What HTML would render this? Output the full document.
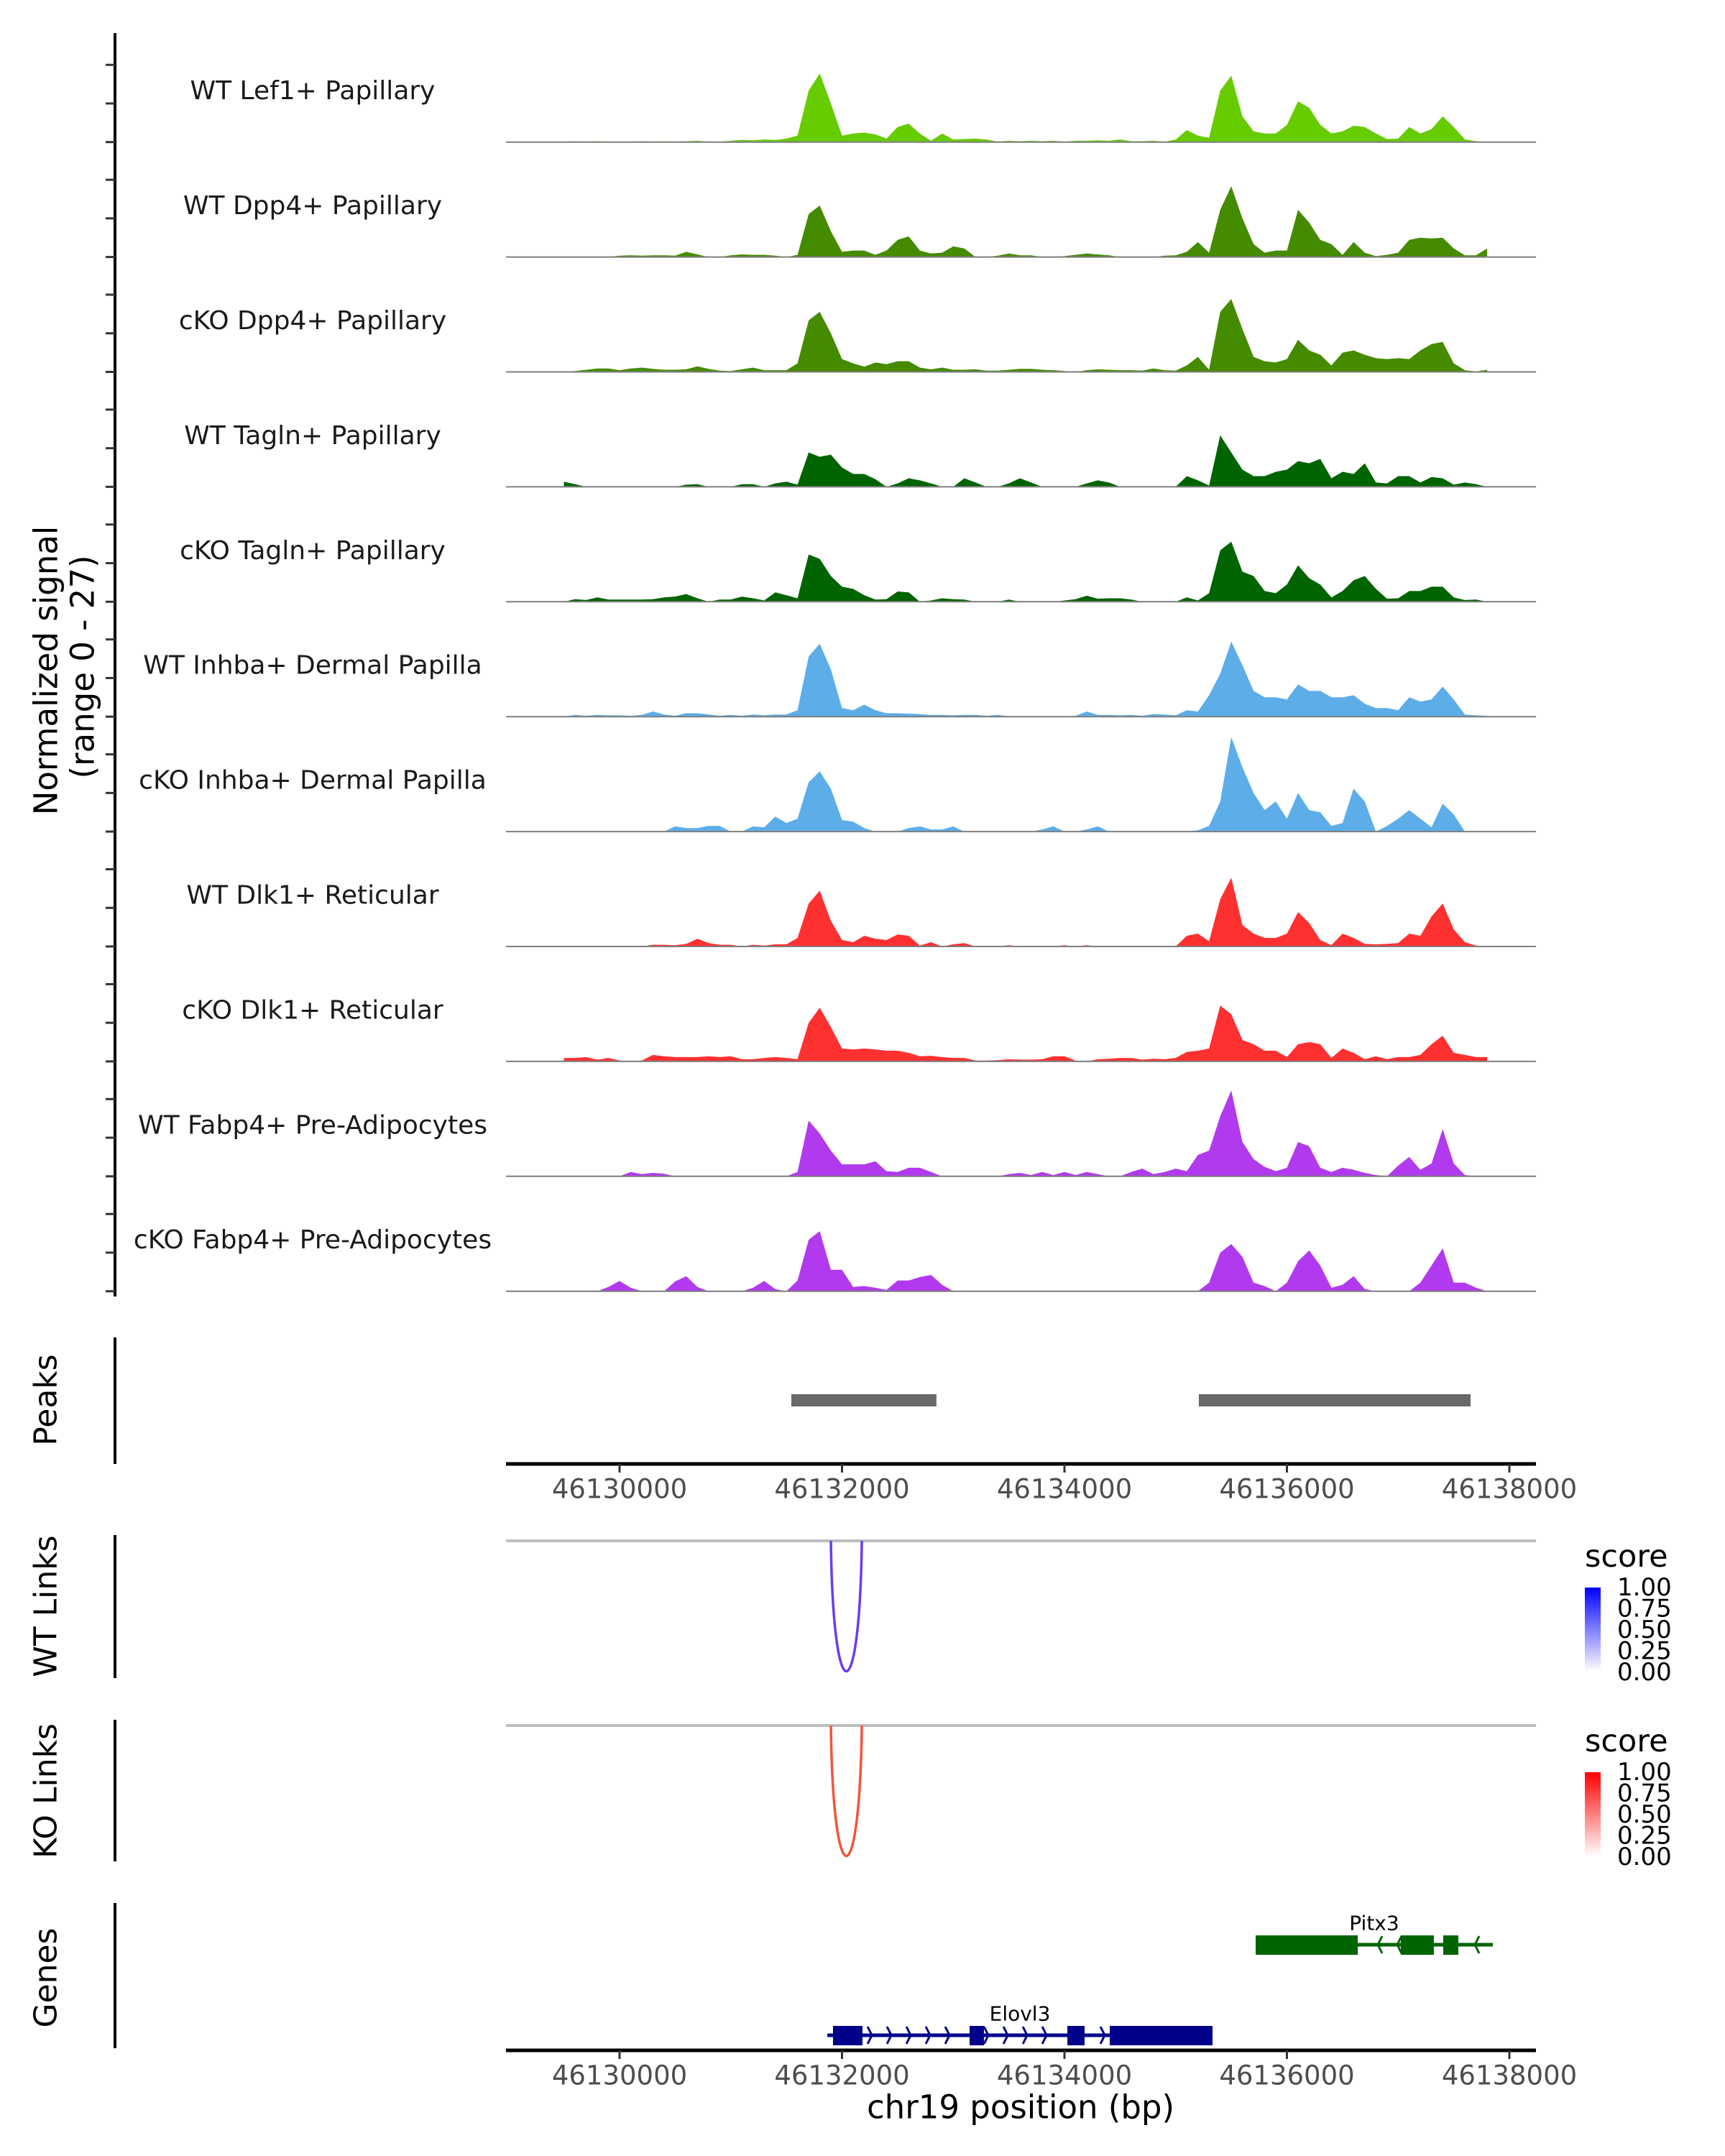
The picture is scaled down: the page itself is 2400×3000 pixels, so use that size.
<!DOCTYPE html>
<html><head><meta charset="utf-8"><style>
html,body{margin:0;padding:0;background:#fff;}
svg{display:block;}
text{font-family:"DejaVu Sans","Liberation Sans",sans-serif;}
</style></head>
<body>
<svg id="chart" width="2400" height="3000" viewBox="0 0 2400 3000" xmlns="http://www.w3.org/2000/svg">
<defs>
<linearGradient id="gBlue" x1="0" y1="1" x2="0" y2="0"><stop offset="0" stop-color="#ffffff"/><stop offset="1" stop-color="#0000ff"/></linearGradient>
<linearGradient id="gRed" x1="0" y1="1" x2="0" y2="0"><stop offset="0" stop-color="#ffffff"/><stop offset="1" stop-color="#ff0000"/></linearGradient>
</defs>
<g id="tracks"></g>
<text transform="translate(64,933) rotate(-90)" text-anchor="middle" dominant-baseline="central" font-size="45" fill="#000">Normalized signal</text>
<text transform="translate(115,928) rotate(-90)" text-anchor="middle" dominant-baseline="central" font-size="45" fill="#000">(range 0 - 27)</text>
<text transform="translate(64,1948) rotate(-90)" text-anchor="middle" dominant-baseline="central" font-size="44">Peaks</text>
<text transform="translate(64,2235) rotate(-90)" text-anchor="middle" dominant-baseline="central" font-size="44">WT Links</text>
<text transform="translate(64,2492) rotate(-90)" text-anchor="middle" dominant-baseline="central" font-size="44">KO Links</text>
<text transform="translate(64,2752) rotate(-90)" text-anchor="middle" dominant-baseline="central" font-size="44">Genes</text>
<g id="rest"></g>
</svg>
<script>
const startBp = 46129500, binBp = 100;
const trackNames = ["WT Lef1+ Papillary","WT Dpp4+ Papillary","cKO Dpp4+ Papillary","WT Tagln+ Papillary","cKO Tagln+ Papillary","WT Inhba+ Dermal Papilla","cKO Inhba+ Dermal Papilla","WT Dlk1+ Reticular","cKO Dlk1+ Reticular","WT Fabp4+ Pre-Adipocytes","cKO Fabp4+ Pre-Adipocytes"];
const trackColors = ["#66cc00","#458b00","#458b00","#006400","#006400","#5dade9","#5dade9","#ff3030","#ff3030","#b23aee","#b23aee"];
const sigLef1WT = [0.1,0.2,0.1,0.2,0.1,0.1,0.1,0.2,0.1,0.2, 0.1,0.2,0.3,0.1,0.1,0.3,0.5,0.4,0.6,0.5, 0.8,1.5,12,16,9,1.5,2,2.2,1.8,0.8, 3.5,4.3,2,0.3,2,0.6,0.7,0.8,0.6,0.1, 0.3,0.2,0.3,0.2,0.3,0.1,0.3,0.3,0.4,0.3, 0.6,0.2,0.2,0.3,0.1,0.6,2.8,1.5,1,12, 15.5,6,2.5,2,2,4,9.5,8,4,2, 2.5,3.8,3.5,2,0.7,0.8,3.5,2,3,6, 3.5,0.6,0.2,0];
const sigDpp4WT = [0,0,0,0,0,0.3,0.4,0.3,0.4,0.4, 0.3,1.2,0.6,0,0,0.4,0.6,0.5,0.5,0.3, 0,0.5,10,12,6,1.2,1.5,1.5,0.5,1.5, 4,4.8,1.5,0.8,1,2.5,2,0,0,0.3, 0.8,0.4,0.4,0,0,0.2,0.5,0.8,0.6,0.4, 0,0,0,0,0.3,0.4,1.2,3.5,1,11, 16.5,9,3,1,1.5,1.5,11,8,4,3, 0.5,3.5,1,0.2,0.5,1,4,4.5,4.3,4.5, 2,0.4,0.4,2];
const sigDpp4KO = [0,0.2,0.5,0.8,0.8,0.4,0.8,1,0.7,0.5, 0.5,0.6,1.3,0.7,0.3,0.2,0.6,1,0.4,0.4, 0.4,2,12,14,9,3,2,1.2,2.2,1.8, 2.5,2.5,1,0.6,1,0.5,0.5,0.6,0.3,0.3, 0.5,0.7,0.7,0.5,0.4,0.2,0,0.4,0.6,0.5, 0.4,0.4,0.3,0.8,0.4,0.3,1.5,3.5,0.5,14, 17,10,3.5,2.5,2.2,3,7.5,5,4,1.5, 4.5,5,4,3.2,3,3.2,3,5,6.5,7, 2,0.4,0.1,0.5];
const sigTaglnWT = [1.2,0.6,0,0,0,0,0,0,0,0, 0,0.5,0.6,0,0,0,0.6,0.6,0,0.8, 1.2,0.5,8,7,7.5,4.5,3,3,1.8,0, 0.8,2,1.5,0.8,0,0,2,1,0,0, 0.8,2,1,0,0,0,0,0.8,1.5,1, 0,0,0,0,0,0,2.5,1.5,0.3,12, 8,4,2.5,2.5,3.5,4,6,5.5,6.5,2, 3.5,3,5.5,1,0.8,2.5,2.5,1,2.3,2, 0.5,1,0.6,0];
const sigTaglnKO = [0,0.6,0.4,1,0.5,0.5,0.5,0.5,0.6,1, 1.2,1.8,0.8,0,0.5,0.5,1.2,0.8,0.3,2.2, 1.5,0.8,11,10,6,3.5,3,1.5,0.5,0.6, 2.4,2.2,0,0.3,0.8,0.6,0.5,0,0,0, 0.5,0,0,0,0,0.3,0.6,1.4,0.7,0.8, 0.8,0.5,0,0,0,0,1,0.3,2,12, 14,7,6,2.5,2,4,8.5,5.5,4,1, 2.5,5,6,3,0.7,0.8,2.5,2.5,3.5,3.5, 1,0.4,0.5,0];
const sigInhbaWT = [0,0.4,0.2,0.4,0.3,0.3,0.2,0.4,1.2,0.5, 0.2,0.8,0.8,0.5,0.2,0.4,0.2,0.5,0.3,0.5, 0.5,1.5,14,17,11,2,1.5,2.8,1.5,0.8, 0.8,0.7,0.6,0.4,0.4,0.3,0.4,0.4,0.2,0.4, 0.1,0,0,0,0,0,0.2,1.2,0.4,0.4, 0.3,0.4,0.2,0.6,0.5,0.3,1.5,1.2,5,10, 17.5,12,6,4.5,4.5,4,7.5,6,6,4.5, 4.5,5,3,2,2,1.5,4.5,3.5,4,7, 4,0.5,0.3,0.2];
const sigInhbaKO = [0,0,0,0,0,0,0,0,0,0, 1.2,0.8,0.8,1.3,1.3,0,0,1.2,1,3.5, 2,3,11.5,14,10,2.7,2.3,0.8,0,0, 0,0.8,1.2,0.5,0.5,1.2,0,0,0,0, 0,0,0,0.5,1.2,0,0,0.5,1.2,0, 0,0,0,0,0,0,0,0.3,1.3,7, 22,15,9,5,7,3,9,5,4.5,1.3, 2,10,7,0,1.3,3,5,3,1,6.5, 4,0,0,0];
const sigDlk1WT = [0,0,0,0,0,0,0,0,0.4,0.4, 0.3,0.6,1.8,0.8,0.4,0.4,0,0.4,0.2,0.5, 0.5,2,10,13,6,1.5,1,2.5,1.8,1.5, 2.8,2.5,0.2,1,0,0.5,0.8,0,0,0, 0.3,0,0,0,0,0.3,0,0.3,0,0, 0,0,0,0,0,0,2.5,3,1.2,11, 16,5,3,2,2,3,8,5.5,1.5,0.3, 3,2,0.6,0.5,0.6,0.8,3,2.5,7,10, 4,1,0.2,0];
const sigDlk1KO = [0.8,0.8,1,0.4,0.8,0.2,0,0.2,1.5,1.2, 1,1,1,1.2,1,1.2,0.5,0.5,0.8,1, 0.8,0.5,9,12.5,8,3,2.8,3,2.8,2.5, 2.5,2,1.2,1.3,1,0.8,0.8,0.2,0.2,0.3, 0.5,0.4,0.4,0.5,1.2,1.2,0.2,0,0.5,0.6, 0.8,0.8,0.4,0.6,0.5,0.8,2.2,2.5,3,13, 11,5,4,2.5,2.5,1,4,4.5,4,0.8, 3,2,0.5,1.2,0.5,1,1,1.5,4,6, 2,1.5,1,1];
const sigFabp4WT = [0,0,0,0,0,0,1,0.5,0.8,0.6, 0,0,0,0,0,0,0,0,0,0, 0,1,13,10,6,2.8,2.8,2.8,3.5,1.2, 1,2,2,1,0,0,0,0,0,0, 0.5,0.8,0.3,1,0.3,1,0.3,1,0.5,0, 0,1,1.8,0.5,1,1.8,1.2,5,6,14, 20,8,4,2.2,1.2,2,8,7,2,1, 2,1.5,0.8,0.3,0,2.5,4.5,1.5,3,11, 3,0.3,0,0];
const sigFabp4KO = [0,0,0,0,1,2.4,0.8,0,0,0, 2.3,3.5,1,0,0,0,0,0.8,2.4,0.5, 0,2.5,12,14,5,5,1,1.2,0.8,0.3, 2.5,2.5,3.3,3.8,1.5,0,0,0,0,0, 0,0,0,0,0,0,0,0,0,0, 0,0,0,0,0,0,0,0,2,9, 11,8,2,1.2,0,2,7,9.5,6,0.8, 1.5,3.5,0.5,0,0,0,0,2,6,10, 2,2,0.8,0];
const allSignals = [sigLef1WT,sigDpp4WT,sigDpp4KO,sigTaglnWT,sigTaglnKO,sigInhbaWT,sigInhbaKO,sigDlk1WT,sigDlk1KO,sigFabp4WT,sigFabp4KO];
const peakStarts = [46131544, 46135208];
const peakEnds = [46132849, 46137651];
const axisTicks = [46130000,46132000,46134000,46136000,46138000];
const wtLinkStart = [46131900], wtLinkEnd = [46132178], wtLinkScore = [0.8];
const koLinkStart = [46131900], koLinkEnd = [46132178], koLinkScore = [0.75];
const legendTicks = ["1.00","0.75","0.50","0.25","0.00"];
const elovl3Exons = [[46131919,46132184],[46133147,46133276],[46134026,46134181],[46134407,46135331]];
const elovl3Span = [46131868,46135331];
const pitx3Exons = [[46135719,46136637],[46137024,46137321],[46137405,46137541]];
const pitx3Span = [46135719,46137851];

const NS="http://www.w3.org/2000/svg";
function mk(tag, attrs, parent){const e=document.createElementNS(NS,tag);for(const k in attrs)e.setAttribute(k,attrs[k]);parent.appendChild(e);return e;}
const xS = bp => 862 + (bp-46130000)*(2100-862)/8000;
const unitPx = 5.97, base0 = 197.7, trackStep = 159.9;
const yS = (k,v) => base0 + trackStep*k - Math.min(v,27)*unitPx;
const tracks = document.getElementById('tracks');
const rest = document.getElementById('rest');

let ax = mk('line',{x1:160,y1:46,x2:160,y2:1804,stroke:'#000','stroke-width':4},tracks);


allSignals.forEach((sig,k)=>{
  const b = base0 + trackStep*k;
  [0,9,18].forEach(t=>{
    const tk = mk('line',{x1:147,x2:160,y1:b-t*unitPx,y2:b-t*unitPx,stroke:'#333','stroke-width':3},tracks);
    
    
  });
  let d = 'M'+xS(startBp).toFixed(1)+','+b.toFixed(1);
  for(let i=0;i<84;i++){const v=sig[i]||0;d+=' L'+xS(startBp+binBp*i).toFixed(1)+','+yS(k,v).toFixed(1);}
  d+=' L'+xS(startBp+binBp*83).toFixed(1)+','+b.toFixed(1)+' Z';
  const p = mk('path',{d:d,fill:trackColors[k],stroke:'none'},tracks);
  
  
  const bl = mk('line',{x1:704,x2:2137,y1:b,y2:b,stroke:'#7f7f7f','stroke-width':2},tracks);
  
  
  const lb = mk('text',{x:435,y:b-71,'text-anchor':'middle','dominant-baseline':'central','font-size':36,fill:'#1a1a1a'},tracks);
  lb.textContent = trackNames[k];
  
  
});

let pa = mk('line',{x1:160,y1:1861,x2:160,y2:2037,stroke:'#000','stroke-width':4},rest);


peakStarts.forEach((s,i)=>{
  const r = mk('rect',{x:xS(s),y:1940,width:xS(peakEnds[i])-xS(s),height:17,fill:'#696969'},rest);
  
  
});
function xAxis(y, nm){
  const l = mk('line',{x1:704,x2:2137,y1:y,y2:y,stroke:'#000','stroke-width':5},rest);
  
  
  axisTicks.forEach(t=>{
    const tk = mk('line',{x1:xS(t),x2:xS(t),y1:y,y2:y+12,stroke:'#333','stroke-width':3},rest);
    
    
    const tl = mk('text',{x:xS(t),y:y+35,'text-anchor':'middle','dominant-baseline':'central','font-size':37,fill:'#4d4d4d'},rest);
    tl.textContent = String(t);
    
    
  });
}
xAxis(2037,'peaks-x-axis');

function linksPanel(top, bottomAx, starts, ends, scores, color, grad, nm){
  const a = mk('line',{x1:160,y1:top-8,x2:160,y2:bottomAx,stroke:'#000','stroke-width':4},rest);
  
  
  const g = mk('line',{x1:704,x2:2137,y1:top,y2:top,stroke:'#bebebe','stroke-width':4},rest);
  
  
  starts.forEach((s,i)=>{
    const x1=xS(s), x2=xS(ends[i]), depth=182;
    const c = mk('path',{d:`M${x1},${top} C${x1+3},${top+depth*1.33} ${x2-3},${top+depth*1.33} ${x2},${top}`,fill:'none',stroke:color,'stroke-width':3.5},rest);
    
    
  });
  const st = mk('text',{x:2205,y:top+22,'dominant-baseline':'central','font-size':43},rest);
  st.textContent='score';
  
  
  const cb = mk('rect',{x:2205,y:top+65,width:22,height:117,fill:`url(#${grad})`},rest);
  
  
  legendTicks.forEach((t,i)=>{
    const yy = top+65+i*29.5;
    const tl = mk('text',{x:2250,y:yy,'dominant-baseline':'central','font-size':34},rest);
    tl.textContent=t;
    
    
  });
}
linksPanel(2144,2335,wtLinkStart,wtLinkEnd,wtLinkScore,'#6a3df2','gBlue','wt-links');
linksPanel(2401,2590,koLinkStart,koLinkEnd,koLinkScore,'#f4553a','gRed','ko-links');

let ga = mk('line',{x1:160,y1:2648,x2:160,y2:2850,stroke:'#000','stroke-width':4},rest);


function gene(name, span, exons, y, color, strand){
  const line = mk('line',{x1:xS(span[0]),x2:xS(span[1]),y1:y,y2:y,stroke:color,'stroke-width':5},rest);
  
  
  for(let x=xS(span[0])+8;x<xS(span[1])-4;x+=27){
    const inEx = exons.some(e=>x>=xS(e[0])-4&&x<=xS(e[1])+4);
    if(inEx) continue;
    const dx = strand>0?-6:6;
    const ch = mk('path',{d:`M${x+dx},${y-12} L${x},${y} L${x+dx},${y+12}`,fill:'none',stroke:color,'stroke-width':3},rest);
    
    
  }
  exons.forEach(e=>{
    const r = mk('rect',{x:xS(e[0]),y:y-13,width:xS(e[1])-xS(e[0]),height:27,fill:color},rest);
    
    
  });
  const lx = (xS(span[0])+xS(span[1]))/2;
  const t = mk('text',{x:lx,y:y-30,'text-anchor':'middle','dominant-baseline':'central','font-size':28},rest);
  t.textContent=name;
  
  
}
gene('Pitx3',pitx3Span,pitx3Exons,2706,'#006400',-1);
gene('Elovl3',elovl3Span,elovl3Exons,2832,'#00008b',1);
xAxis(2853,'genes-x-axis');
const xt = mk('text',{x:1420,y:2932,'text-anchor':'middle','dominant-baseline':'central','font-size':45},rest);
xt.textContent='chr19 position (bp)';


</script>
</body></html>
